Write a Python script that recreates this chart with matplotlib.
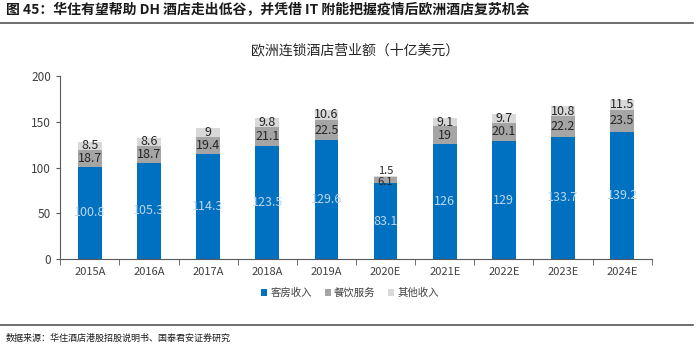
import numpy as np
import matplotlib
matplotlib.use("Agg")
import matplotlib.pyplot as plt

plt.rcParams['font.family'] = ['Noto Sans CJK SC', 'DejaVu Sans']

# data
years = ["2015A", "2016A", "2017A", "2018A", "2019A",
         "2020E", "2021E", "2022E", "2023E", "2024E"]
rooms = [100.8, 105.3, 114.3, 123.5, 129.6, 83.1, 126, 129, 133.7, 139.2]
food = [18.7, 18.7, 19.4, 21.1, 22.5, 6.1, 19, 20.1, 22.2, 23.5]
other = [8.5, 8.6, 9, 9.8, 10.6, 1.5, 9.1, 9.7, 10.8, 11.5]
series_names = ["客房收入", "餐饮服务", "其他收入"]
colors = ["#0070C0", "#A5A5A5", "#D9D9D9"]

fig = plt.figure(figsize=(7, 3.55), dpi=100)
ax = fig.add_axes([0.086, 0.270, 0.845, 0.516])

x = np.arange(len(years))
w = 0.4
bottom = np.zeros(len(years))
label_colors = ["#BDD7EE", "#262626", "#262626"]
for k, (vals, name, c, lc) in enumerate(zip([rooms, food, other], series_names, colors, label_colors)):
    vals = np.array(vals, dtype=float)
    ax.bar(x, vals, w, bottom=bottom, color=c, label=name, zorder=2)
    for xi, b, v in zip(x, bottom, vals):
        y = b + v / 2
        fs = 9
        # the thin 2020E segments: nudge labels apart
        if v < 7:
            y += 6.5 if k == 2 else -2
            fs = 8
        ax.text(xi, y, f"{v:g}", ha="center", va="center",
                fontsize=fs, color=lc, zorder=3)
    bottom += vals

ax.set_ylim(0, 200)
ax.set_xlim(-0.5, len(years) - 0.5)
ax.set_yticks([0, 50, 100, 150, 200])
ax.set_xticks(x)
ax.set_xticklabels(years)
ax.set_xticks(np.arange(-0.5, len(years)), minor=True)
ax.tick_params(axis="x", which="major", length=0, labelsize=8, colors="#404040", pad=6)
ax.tick_params(axis="x", which="minor", length=4, color="#595959")
ax.tick_params(axis="y", length=3, labelsize=8.5, colors="#404040", color="#595959")
for s in ["top", "right"]:
    ax.spines[s].set_visible(False)
ax.spines["left"].set_color("#595959")
ax.spines["bottom"].set_color("#595959")

fig.text(0.507, 0.858, "欧洲连锁酒店营业额（十亿美元）", ha="center", va="center",
         fontsize=10, color="#262626")

ax.legend(loc="upper center", bbox_to_anchor=(0.49, -0.105), ncol=3, frameon=False,
          fontsize=7.5, handlelength=0.6, handleheight=0.6, handletextpad=0.3,
          columnspacing=1.2, labelcolor="#404040")

# header and footer
fig.text(0.008, 0.972, "图 45：华住有望帮助 DH 酒店走出低谷，并凭借 IT 附能把握疫情后欧洲酒店复苏机会",
         ha="left", va="center", fontsize=10, fontweight="bold", color="#1a1a1a")
fig.add_artist(plt.Line2D([0.0, 0.99], [0.935, 0.935], color="#555555", lw=1.2))
fig.add_artist(plt.Line2D([0.0, 0.99], [0.085, 0.085], color="#555555", lw=1.2))
fig.text(0.008, 0.048, "数据来源：华住酒店港股招股说明书、国泰君安证券研究",
         ha="left", va="center", fontsize=6.5, color="#1a1a1a")

fig.savefig("out.png", dpi=100)
